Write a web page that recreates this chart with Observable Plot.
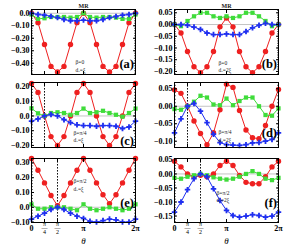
<!DOCTYPE html>
<html><head><meta charset="utf-8">
<script src="https://cdn.jsdelivr.net/npm/d3@7"></script>
<script src="https://cdn.jsdelivr.net/npm/@observablehq/plot@0.6"></script>
<style>
body{margin:0;background:#fff;}
#c{position:relative;width:286px;height:245px;overflow:hidden;background:#fff;}
#c svg{position:absolute;overflow:visible;}
</style></head><body><div id="c"></div>
<script>
const PI = Math.PI;
// θ samples: k·π/8, k = 0..16
const thetaK = [0,1,2,3,4,5,6,7,8,9,10,11,12,13,14,15,16];
const theta = thetaK.map(k => k * PI / 8);

// (a) β=0, dx=ξ
const redA   = [0,-0.075,-0.25,-0.425,-0.47,-0.425,-0.25,-0.075,0,-0.075,-0.25,-0.425,-0.47,-0.425,-0.25,-0.075,0];
const greenA = [-0.01,-0.045,-0.04,-0.03,-0.03,-0.03,-0.035,-0.03,0.0,-0.03,-0.035,-0.03,-0.03,-0.035,-0.045,-0.045,-0.01];
const blueA  = [0,-0.01,-0.015,-0.025,-0.035,-0.05,-0.06,-0.06,-0.055,-0.06,-0.06,-0.05,-0.035,-0.025,-0.015,-0.01,0];
// (b) β=0, dx=2ξ
const redB   = [0,-0.036,-0.115,-0.18,-0.205,-0.18,-0.115,-0.01,0.028,-0.01,-0.115,-0.18,-0.205,-0.18,-0.115,-0.036,0];
const greenB = [0,-0.007,0.015,0.035,0.05,0.05,0.035,0.028,0.035,0.028,0.035,0.05,0.05,0.035,0.015,-0.007,0];
const blueB  = [0,0,-0.003,-0.011,-0.021,-0.036,-0.043,-0.043,-0.04,-0.043,-0.043,-0.03,-0.014,-0.003,0.005,0,0];
// (c) β=π/4, dx=ξ
const redC   = [0.22,0.16,0.0,-0.14,-0.2,-0.14,0.0,0.16,0.22,0.16,0.0,-0.14,-0.2,-0.14,0.0,0.16,0.22];
const greenC = [0.052,0.018,0.0,0.02,0.025,0.02,0.008,0.02,0.05,0.02,0.025,0.035,0.02,0.008,-0.005,0.02,0.05];
const blueC  = [-0.035,-0.02,0.0,0.01,0.0,-0.025,-0.045,-0.06,-0.065,-0.065,-0.07,-0.065,-0.065,-0.07,-0.085,-0.075,-0.035];
// (d) β=π/4, dx=2ξ
const redD   = [0.047,0.037,0.0,-0.042,-0.078,-0.11,-0.076,-0.01,0.063,0.054,-0.012,-0.068,-0.09,-0.093,-0.055,0.0,0.048];
const greenD = [-0.008,-0.01,0.0,0.013,0.03,0.025,0.005,0.003,0.022,0.003,0.015,0.025,0.025,0.0,-0.025,-0.027,-0.006];
const blueD  = [-0.076,-0.036,0.0,0.008,-0.014,-0.047,-0.08,-0.104,-0.11,-0.111,-0.112,-0.11,-0.105,-0.104,-0.1,-0.095,-0.076];
// (e) β=π/2, dx=ξ
const redE   = [0.33,0.25,0.165,0.08,0.01,0.08,0.165,0.25,0.33,0.25,0.165,0.085,0.025,0.085,0.165,0.25,0.33];
const greenE = [0.02,-0.01,-0.01,0.0,0.0,0.0,-0.01,-0.02,0.02,-0.01,-0.02,-0.01,0.0,-0.01,-0.02,-0.01,0.02];
const blueE  = [-0.08,-0.06,-0.04,-0.015,0.0,-0.015,-0.04,-0.06,-0.075,-0.095,-0.1,-0.09,-0.08,-0.085,-0.1,-0.1,-0.08];
// (f) β=π/2, dx=2ξ
const redF   = [0.045,0.025,0.0,-0.01,-0.005,-0.01,0.0,0.03,0.045,0.03,-0.005,-0.03,-0.035,-0.035,-0.01,0.025,0.045];
const greenF = [-0.014,-0.017,-0.01,-0.005,0.0,-0.005,-0.012,-0.017,-0.02,-0.017,-0.01,0.0,0.01,0.0,-0.017,-0.022,-0.014];
const blueF  = [-0.136,-0.1,-0.056,-0.017,0.0,-0.01,-0.053,-0.095,-0.13,-0.148,-0.154,-0.15,-0.145,-0.148,-0.154,-0.15,-0.136];

// y tick values and labels
const yTicksA = [0,-0.1,-0.2,-0.3,-0.4];        const yLabelsA = ["0.0","−0.10","−0.20","−0.30","−0.40"];
const yTicksB = [0.05,0,-0.05,-0.1,-0.15,-0.2];  const yLabelsB = ["0.05","0.00","−0.05","−0.10","−0.15","−0.20"];
const yTicksC = [0.2,0.1,0,-0.1,-0.2];           const yLabelsC = ["0.20","0.10","0.0","−0.10","−0.20"];
const yTicksD = [0.05,0,-0.05,-0.1];             const yLabelsD = ["0.05","0.00","−0.05","−0.10"];
const yTicksE = [0.3,0.2,0.1,0,-0.1];            const yLabelsE = ["0.30","0.20","0.10","0.0","−0.10"];
const yTicksF = [0.05,0,-0.05,-0.1,-0.15];       const yLabelsF = ["0.05","0.00","−0.05","−0.10","−0.15"];

// x ticks
const xTicks = [0, PI/4, PI/2, PI, 2*PI];
const xTickSingle = ["0", null, null, "π", "2π"];
const xTickFrac = [null, "π\n—\n4", "π\n—\n2", null, null];

const betaTexts = ["β=0","β=0","β=π/4","β=π/4","β=π/2","β=π/2"];
const dTexts = ["dₓ=ξ","dₓ=2ξ","dₓ=ξ","dₓ=2ξ","dₓ=ξ","dₓ=2ξ"];
const panelLabels = ["(a)","(b)","(c)","(d)","(e)","(f)"];

const RED = "#ee2020", GREEN = "#3fdc3a", BLUE = "#1f2ff0";
const FONT = "Liberation Serif";

const panels = [
  {red:redA, green:greenA, blue:blueA, dom:[-0.49,0.03], yt:yTicksA, yl:yLabelsA, minor:0.02, dash:null, ann:[2.66,-0.386,-0.45], lab:11, col:0, row:0},
  {red:redB, green:greenB, blue:blueB, dom:[-0.213,0.064], yt:yTicksB, yl:yLabelsB, minor:0.01, dash:null, ann:[2.66,-0.162,-0.192], lab:11, col:1, row:0},
  {red:redC, green:greenC, blue:blueC, dom:[-0.214,0.227], yt:yTicksC, yl:yLabelsC, minor:0.02, dash:PI/4, ann:[2.54,-0.112,-0.16], lab:7, col:0, row:1},
  {red:redD, green:greenD, blue:blueD, dom:[-0.118,0.068], yt:yTicksD, yl:yLabelsD, minor:0.01, dash:PI/4, ann:[2.66,-0.072,-0.095], lab:15, col:1, row:1},
  {red:redE, green:greenE, blue:blueE, dom:[-0.103,0.33], yt:yTicksE, yl:yLabelsE, minor:0.02, dash:PI/2, ann:[2.54,0.181,0.127], lab:20, col:0, row:2},
  {red:redF, green:greenF, blue:blueF, dom:[-0.173,0.055], yt:yTicksF, yl:yLabelsF, minor:0.01, dash:PI/2, ann:[2.54,-0.066,-0.094], lab:20, col:1, row:2},
];
const rowLayout = [
  {top:0, height:78, mt:9, mb:4},
  {top:78, height:72, mt:4, mb:3},
  {top:150, height:95, mt:8, mb:23},
];

const container = document.getElementById("c");

panels.forEach((p, idx) => {
  const L = rowLayout[p.row];
  const rows = (vals) => vals.map((v, i) => ({x: theta[i], y: v}));
  const R = rows(p.red), G = rows(p.green), B = rows(p.blue);
  const minorTicks = d3.range(Math.ceil(p.dom[0]/p.minor)*p.minor, p.dom[1] + 1e-9, p.minor);
  const marks = [
    Plot.ruleY([0], {stroke: "#c4c4c4", strokeWidth: 1}),
  ];
  if (p.dash != null) marks.push(Plot.ruleX([p.dash], {stroke: "#111", strokeWidth: 1, strokeDasharray: "1.6,1.4"}));
  marks.push(
    Plot.line(R, {x: "x", y: "y", stroke: RED, strokeWidth: 1}),
    Plot.dot(R, {x: "x", y: "y", fill: RED, r: 2.7, symbol: "circle"}),
    Plot.line(G, {x: "x", y: "y", stroke: GREEN, strokeWidth: 1}),
    Plot.dot(G, {x: "x", y: "y", fill: GREEN, r: 2.4, symbol: "square"}),
    Plot.line(B, {x: "x", y: "y", stroke: BLUE, strokeWidth: 1}),
    Plot.dot(B, {x: "x", y: "y", fill: BLUE, r: 2.3, symbol: "cross"}),
    Plot.frame({stroke: "#000", strokeWidth: 1}),
    // y labels
    Plot.axisY(p.yt, {anchor: "left", tickSize: 0, tickPadding: 2, label: null, fontSize: 8, fontWeight: "bold",
      tickFormat: d => p.yl[p.yt.indexOf(d)]}),
    // inward ticks
    Plot.axisY(p.yt, {anchor: "left", tickSize: 3, dx: 3, label: null, tickFormat: () => ""}),
    Plot.axisY(p.yt, {anchor: "right", tickSize: 3, dx: -3, label: null, tickFormat: () => ""}),
    Plot.axisY(minorTicks, {anchor: "left", tickSize: 1.6, dx: 1.6, label: null, tickFormat: () => ""}),
    Plot.axisY(minorTicks, {anchor: "right", tickSize: 1.6, dx: -1.6, label: null, tickFormat: () => ""}),
    Plot.axisX(xTicks, {anchor: "bottom", tickSize: 3, dy: -3, label: null, tickFormat: () => ""}),
    Plot.axisX(xTicks, {anchor: "top", tickSize: 3, dy: 3, label: null, tickFormat: () => ""}),
    // annotations
    Plot.text([betaTexts[idx] + "\n" + dTexts[idx]], {x: p.ann[0], y: (p.ann[1] + p.ann[2]) / 2, text: d => d, textAnchor: "start", lineAnchor: "middle", lineHeight: 1.35, fontSize: 5.5, fill: "#222"}),
    Plot.text([panelLabels[idx]], {frameAnchor: "bottom-right", text: d => d, textAnchor: "end", lineAnchor: "middle",
      dx: -1.5, dy: -p.lab, fontSize: 12.5, fontWeight: "bold", fill: "#000"})
  );
  if (p.row === 0) {
    marks.push(Plot.text(["MR"], {frameAnchor: "top", text: d => d, lineAnchor: "bottom", dy: -2, fontSize: 6, fontWeight: "bold", fill: "#222"}));
  }
  if (p.row === 2) {
    const xt = xTicks.map((v, i) => ({x: v, s: xTickSingle[i], f: xTickFrac[i]}));
    marks.push(
      Plot.text(xt.filter(d => d.s), {x: "x", frameAnchor: "bottom", text: "s", lineAnchor: "middle", dy: 6, fontSize: 8, fontWeight: "bold"}),
      Plot.text(xt.filter(d => d.f), {x: "x", frameAnchor: "bottom", text: "f", lineAnchor: "middle", lineHeight: 0.62, dy: 6.3, fontSize: 6}),
      Plot.text(["θ"], {frameAnchor: "bottom", text: d => d, lineAnchor: "middle", dy: 19, fontSize: 9, fontStyle: "italic"})
    );
  }
  const svg = Plot.plot({
    width: 143, height: L.height,
    marginLeft: 31, marginRight: 8, marginTop: L.mt, marginBottom: L.mb,
    style: {fontFamily: FONT, background: "transparent", color: "#000"},
    x: {domain: [0, 2*PI], label: null},
    y: {domain: p.dom, label: null},
    marks
  });
  svg.style.left = (p.col * 143) + "px";
  svg.style.top = L.top + "px";
  container.appendChild(svg);
});
</script></body></html>
